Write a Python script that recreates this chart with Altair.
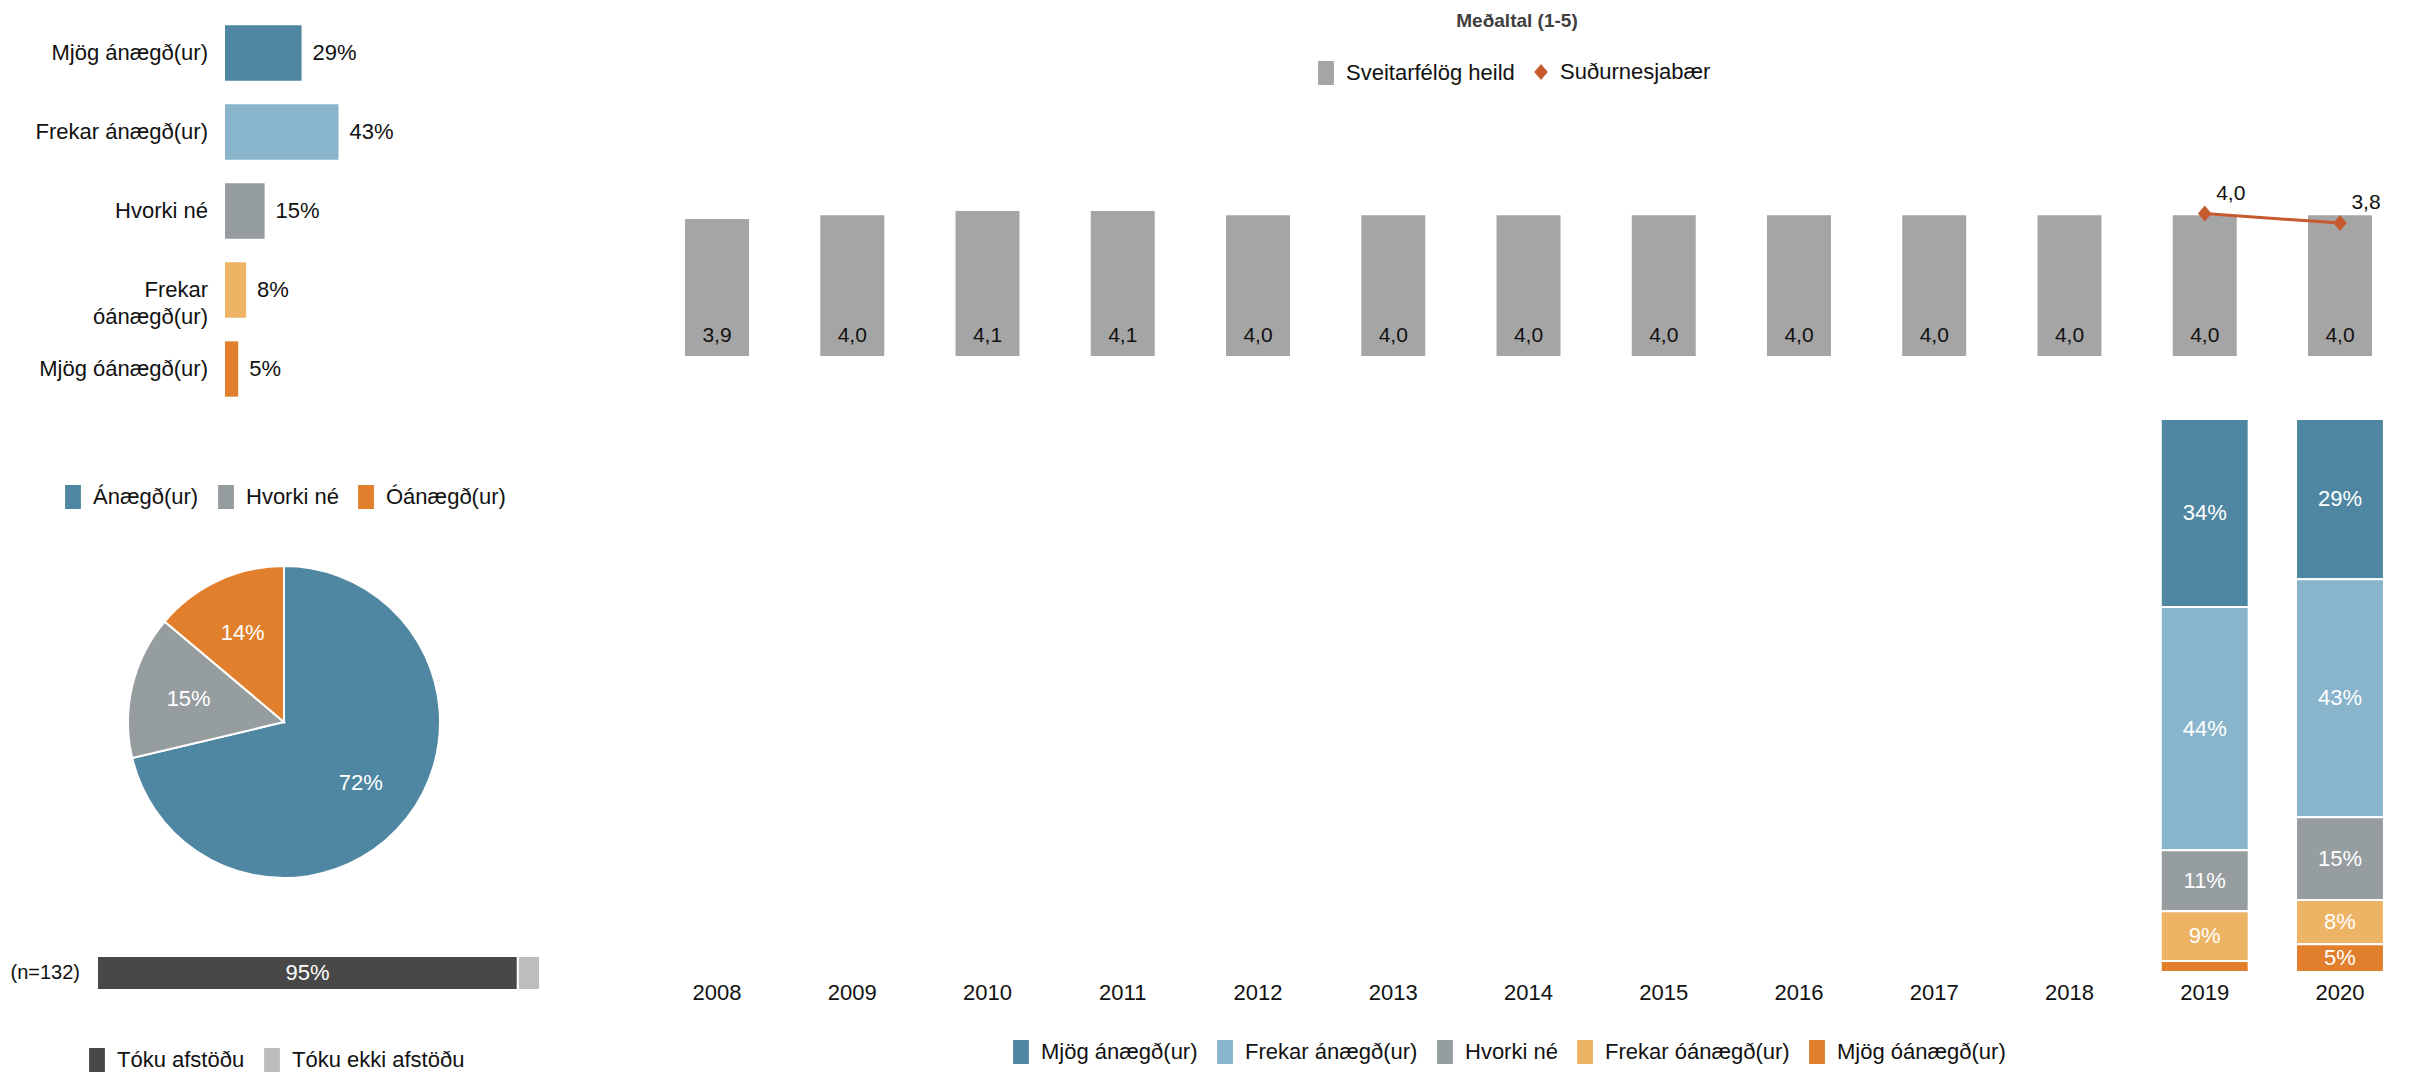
import altair as alt
import pandas as pd

FONT = "Liberation Sans"
TXT = "#111111"
W, H = 2399, 1066

# ---------------- data ----------------
HB_CATS = ["Mjög ánægð(ur)", "Frekar ánægð(ur)", "Hvorki né", "Frekar óánægð(ur)", "Mjög óánægð(ur)"]
HB_LABELS = ["Mjög ánægð(ur)", "Frekar ánægð(ur)", "Hvorki né", "Frekar \nóánægð(ur)", "Mjög óánægð(ur)"]
HB_VALUES = [29, 43, 15, 8, 5]
FIVE_COLORS = ["#4F87A2", "#88B5CB", "#969D9F", "#EDB466", "#E17F2C"]

PIE_CATS = ["Ánægð(ur)", "Hvorki né", "Óánægð(ur)"]
PIE_VALUES = [72, 15, 14]
PIE_COLORS = ["#4F87A2", "#969D9F", "#E17F2C"]

RESP_N = "(n=132)"
RESP_CATS = ["Tóku afstöðu", "Tóku ekki afstöðu"]
RESP_VALUES = [95, 5]
RESP_COLORS = ["#484848", "#BDBDBD"]

TITLE = "Meðaltal (1-5)"
YEARS = ["2008", "2009", "2010", "2011", "2012", "2013", "2014",
         "2015", "2016", "2017", "2018", "2019", "2020"]
BAR_SERIES = "Sveitarfélög heild"
AVG_ALL = [3.89, 3.99, 4.11, 4.11, 3.99, 3.99, 3.99, 3.99, 3.99, 3.99, 3.99, 3.99, 3.99]
LINE_SERIES = "Suðurnesjabær"
LINE_YEARS = ["2019", "2020"]
LINE_VALUES = [4.04, 3.77]
BAR_GRAY = "#A5A5A5"
LINE_COLOR = "#C65A2E"

STACK_YEARS = ["2019", "2020"]
S_MJOG_ANAEGD = [34, 29]
S_FREKAR_ANAEGD = [44, 43]
S_HVORKI = [11, 15]
S_FREKAR_OANAEGD = [9, 8]
S_MJOG_OANAEGD = [2, 5]

RECT = "M-0.66,-1H0.66V1H-0.66Z"
DIAMOND = "M0,-1L0.85,0L0,1L-0.85,0Z"


def legend(x, y, sym, size):
    return alt.Legend(orient="none", legendX=x, legendY=y, direction="horizontal",
                      title=None, symbolType=sym, symbolSize=size, symbolStrokeWidth=0,
                      symbolOpacity=1, labelFontSize=22, labelFont=FONT, labelColor=TXT,
                      labelOffset=8, columnPadding=15, labelLimit=500)


# ---------------- top-left horizontal bars ----------------
hb_df = pd.DataFrame({"cat": HB_CATS, "label": HB_LABELS, "val": HB_VALUES})


def hb_y():
    return alt.Y("cat:N", sort=HB_CATS, axis=None,
                 scale=alt.Scale(domain=HB_CATS, range=[5.5, 400.5], paddingInner=0.3, paddingOuter=0.15))


def hb_x():
    return alt.X("val:Q", axis=None, scale=alt.Scale(domain=[0, 100], range=[217, 481]))


hb_bars = alt.Chart(hb_df).mark_bar().encode(
    x=hb_x(), y=hb_y(),
    color=alt.Color("cat:N", scale=alt.Scale(domain=HB_CATS, range=FIVE_COLORS), legend=None))
hb_cat = alt.Chart(hb_df).mark_text(align="right", baseline="middle", fontSize=22, font=FONT, color=TXT,
                                    lineBreak="\n", lineHeight=27).encode(
    x=alt.value(200), y=hb_y(), text="label:N")
hb_val = alt.Chart(hb_df).transform_calculate(pct="datum.val + '%'").mark_text(
    align="left", baseline="middle", dx=11, fontSize=22, font=FONT, color=TXT).encode(
    x=hb_x(), y=hb_y(), text="pct:N")

# ---------------- pie ----------------
pie_df = pd.DataFrame({"cat": PIE_CATS, "val": PIE_VALUES, "ord": list(range(len(PIE_CATS)))})
pie_arc = alt.Chart(pie_df).mark_arc(radius=156, stroke="white", strokeWidth=2).encode(
    theta=alt.Theta("val:Q", stack=True), order=alt.Order("ord:Q"),
    color=alt.Color("cat:N", scale=alt.Scale(domain=PIE_CATS, range=PIE_COLORS),
                    legend=legend(53, 477, RECT, 576)),
    x=alt.value(276), y=alt.value(714))
pie_txt = alt.Chart(pie_df).transform_calculate(pct="datum.val + '%'").mark_text(
    radius=98, fontSize=22, font=FONT, color="white").encode(
    theta=alt.Theta("val:Q", stack=True), order=alt.Order("ord:Q"), text="pct:N",
    x=alt.value(276), y=alt.value(714))

# ---------------- bottom-left response bar ----------------
resp_df = pd.DataFrame({"grp": [RESP_N] * len(RESP_CATS), "cat": RESP_CATS, "val": RESP_VALUES,
                        "ord": list(range(len(RESP_CATS)))})


def r_y():
    return alt.Y("grp:N", axis=None,
                 scale=alt.Scale(domain=[RESP_N], range=[948, 982], paddingInner=0, paddingOuter=0))


def r_sx():
    return alt.Scale(domain=[0, 100], range=[89, 532])


r_bars = alt.Chart(resp_df).mark_bar(stroke="white", strokeWidth=2).encode(
    x=alt.X("val:Q", stack="zero", axis=None, scale=r_sx()), y=r_y(), order=alt.Order("ord:Q"),
    color=alt.Color("cat:N", scale=alt.Scale(domain=RESP_CATS, range=RESP_COLORS),
                    legend=legend(77, 1040, RECT, 576)))
r_lbl = alt.Chart(resp_df).transform_window(
    cum="sum(val)", sort=[alt.SortField("ord")], frame=[None, 0]).transform_calculate(
    mid="datum.cum - datum.val / 2", pct="datum.val + '%'").transform_filter("datum.val >= 10").mark_text(
    fontSize=22, font=FONT, color="white", baseline="middle").encode(
    x=alt.X("mid:Q", axis=None, scale=r_sx()), y=r_y(), text="pct:N")
r_n = alt.Chart(resp_df).transform_filter("datum.ord == 0").mark_text(
    align="right", baseline="middle", fontSize=20, font=FONT, color=TXT).encode(
    x=alt.value(72), y=r_y(), text="grp:N")

# ---------------- top-right averages ----------------
avg_df = pd.DataFrame({"year": YEARS, "val": AVG_ALL, "series": [BAR_SERIES] * len(YEARS)})
line_df = pd.DataFrame({"year": LINE_YEARS, "val": LINE_VALUES, "series": [LINE_SERIES] * len(LINE_YEARS)})
fmt = "replace(format(datum.val, '.1f'), '.', ',')"


def a_x():
    return alt.X("year:N", sort=YEARS, axis=None,
                 scale=alt.Scale(domain=YEARS, range=[641.4, 2399.6], paddingInner=0.527, paddingOuter=0.2635))


def a_y(field="val"):
    return alt.Y(field + ":Q", axis=None, scale=alt.Scale(domain=[0, 5], range=[348, 171.75]))


a_bars = alt.Chart(avg_df).mark_bar().encode(
    x=a_x(), y=a_y(),
    color=alt.Color("series:N", scale=alt.Scale(domain=[BAR_SERIES], range=[BAR_GRAY]),
                    legend=legend(1306, 53, RECT, 576)))
a_lbl = alt.Chart(avg_df).transform_calculate(lbl=fmt, base="0").mark_text(
    dy=-20, fontSize=21, font=FONT, color=TXT, baseline="middle").encode(
    x=a_x(), y=a_y("base"), text="lbl:N")
l_line = alt.Chart(line_df).mark_line(color=LINE_COLOR, strokeWidth=3).encode(x=a_x(), y=a_y())
l_pts = alt.Chart(line_df).mark_point(filled=True, shape=DIAMOND, size=256, opacity=1).encode(
    x=a_x(), y=a_y(),
    color=alt.Color("series:N", scale=alt.Scale(domain=[LINE_SERIES], range=[LINE_COLOR]),
                    legend=legend(1522, 53, DIAMOND, 256)))
l_lbl = alt.Chart(line_df).transform_calculate(lbl=fmt).mark_text(
    dx=26, dy=-20, fontSize=21, font=FONT, color=TXT, baseline="middle").encode(
    x=a_x(), y=a_y(), text="lbl:N")

# ---------------- bottom-right stacked distribution ----------------
STACK_SERIES = [S_MJOG_ANAEGD, S_FREKAR_ANAEGD, S_HVORKI, S_FREKAR_OANAEGD, S_MJOG_OANAEGD]
rows = []
for i, (cat, vals) in enumerate(zip(HB_CATS, STACK_SERIES)):
    for yr, v in zip(STACK_YEARS, vals):
        rows.append({"year": yr, "cat": cat, "val": v, "ord": len(HB_CATS) - 1 - i})
st_df = pd.DataFrame(rows)


def s_x():
    return alt.X("year:N", sort=YEARS, axis=None,
                 scale=alt.Scale(domain=YEARS, range=[641.4, 2399.6], paddingInner=0.35, paddingOuter=0.175))


def s_sy():
    return alt.Scale(domain=[0, 100], range=[964, 411])


s_bars = alt.Chart(st_df).mark_bar(stroke="white", strokeWidth=2).encode(
    x=s_x(), y=alt.Y("val:Q", stack="zero", axis=None, scale=s_sy()), order=alt.Order("ord:Q"),
    color=alt.Color("cat:N", scale=alt.Scale(domain=HB_CATS, range=FIVE_COLORS),
                    legend=legend(1001, 1032, RECT, 576)))
s_lbl = alt.Chart(st_df).transform_window(
    cum="sum(val)", groupby=["year"], sort=[alt.SortField("ord")], frame=[None, 0]).transform_calculate(
    mid="datum.cum - datum.val / 2", pct="datum.val + '%'").transform_filter("datum.val >= 3").mark_text(
    fontSize=22, font=FONT, color="white", baseline="middle").encode(
    x=s_x(), y=alt.Y("mid:Q", axis=None, scale=s_sy()), text="pct:N")
yr_df = pd.DataFrame({"year": YEARS})
s_years = alt.Chart(yr_df).mark_text(fontSize=22, font=FONT, color=TXT, baseline="middle").encode(
    x=s_x(), y=alt.value(985), text="year:N")

# ---------------- title ----------------
title_mark = alt.Chart(pd.DataFrame({"t": [TITLE]})).mark_text(
    fontSize=19, font=FONT, fontWeight="bold", color="#404040", baseline="middle").encode(
    x=alt.value(1509), y=alt.value(13), text="t:N")

layers = [hb_bars, hb_cat, hb_val, pie_arc, pie_txt, r_bars, r_lbl, r_n,
          a_bars, a_lbl, l_line, l_pts, l_lbl, s_bars, s_lbl, s_years, title_mark]

chart = alt.layer(*layers).resolve_scale(
    x="independent", y="independent", color="independent", theta="independent").resolve_legend(
    color="independent").properties(
    width=W, height=H, autosize="none", padding=0).configure_view(stroke=None)

chart.save("out.html", embed_options={"renderer": "svg", "actions": False})
